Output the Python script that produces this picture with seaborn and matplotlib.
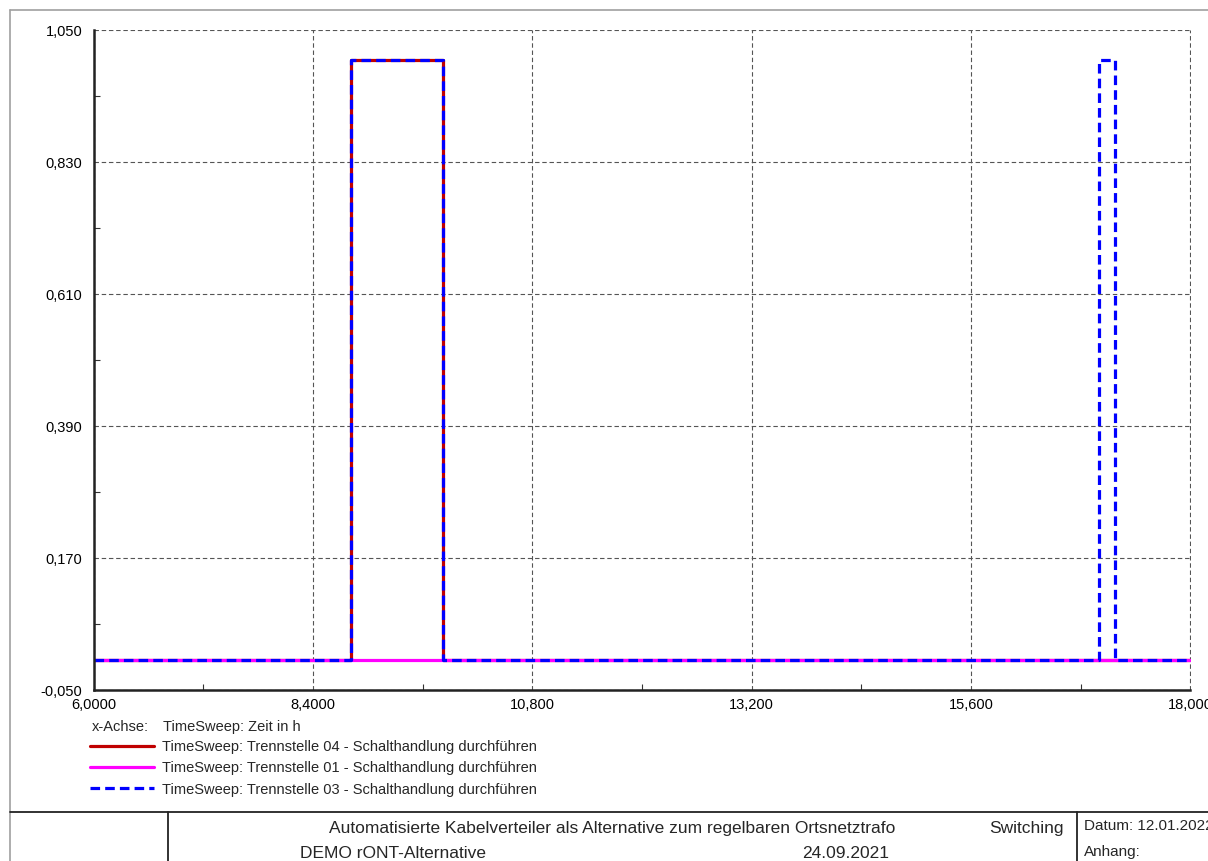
import matplotlib
matplotlib.use("Agg")
import matplotlib.pyplot as plt
from matplotlib.lines import Line2D
import seaborn as sns
import pandas as pd

# ---- data ----
time_04 = [6.0, 8.82, 8.82, 9.82, 9.82, 18.0]
val_04 = [0, 0, 1, 1, 0, 0]
time_01 = [6.0, 18.0]
val_01 = [0, 0]
time_03 = [6.0, 8.82, 8.82, 9.82, 9.82, 17.0, 17.0, 17.17, 17.17, 18.0]
val_03 = [0, 0, 1, 1, 0, 0, 1, 1, 0, 0]

series_labels = [
    "TimeSweep: Trennstelle 04 - Schalthandlung durchführen",
    "TimeSweep: Trennstelle 01 - Schalthandlung durchführen",
    "TimeSweep: Trennstelle 03 - Schalthandlung durchführen",
]
x_ticks = [6.0, 8.4, 10.8, 13.2, 15.6, 18.0]
x_tick_labels = ["6,0000", "8,4000", "10,800", "13,200", "15,600", "18,000"]
y_ticks = [-0.05, 0.17, 0.39, 0.61, 0.83, 1.05]
y_tick_labels = ["-0,050", "0,170", "0,390", "0,610", "0,830", "1,050"]
x_axis_label = "TimeSweep: Zeit in h"
footer_title = "Automatisierte Kabelverteiler als Alternative zum regelbaren Ortsnetztrafo"
footer_project = "DEMO rONT-Alternative"
footer_case = "Switching"
footer_date_case = "24.09.2021"
footer_datum = "Datum: 12.01.2022"
footer_anhang = "Anhang:"

sns.set_style("white")
plt.rcParams["font.family"] = ["Liberation Sans", "DejaVu Sans"]

W, H = 1208, 861
fig = plt.figure(figsize=(W / 100, H / 100), dpi=100)
ax = fig.add_axes([93.5 / W, 1 - 690 / H, (1190.5 - 93.5) / W, (690 - 30) / H])

df04 = pd.DataFrame({"t": time_04, "v": val_04})
df01 = pd.DataFrame({"t": time_01, "v": val_01})
df03 = pd.DataFrame({"t": time_03, "v": val_03})

lw = 2.3
sns.lineplot(data=df04, x="t", y="v", ax=ax, color="#C00000", lw=lw,
             estimator=None, sort=False, label=series_labels[0], zorder=3)
sns.lineplot(data=df01, x="t", y="v", ax=ax, color="#FF00FF", lw=lw,
             estimator=None, sort=False, label=series_labels[1], zorder=4)
sns.lineplot(data=df03, x="t", y="v", ax=ax, color="#0000FF", lw=lw,
             estimator=None, sort=False, label=series_labels[2], zorder=5,
             dashes=False)
ax.lines[-1].set_dashes((3, 1.6))

ax.set_xlim(6.0, 18.0)
ax.set_ylim(-0.05, 1.05)
ax.set_xticks(x_ticks)
ax.set_xticklabels(x_tick_labels)
ax.set_yticks(y_ticks)
ax.set_yticklabels(y_tick_labels)
ax.set_xticks([7.2, 9.6, 12.0, 14.4, 16.8], minor=True)
ax.set_yticks([0.06, 0.28, 0.50, 0.72, 0.94], minor=True)
ax.tick_params(axis="both", which="major", length=0, labelsize=10.5, colors="black")
ax.tick_params(axis="y", which="major", pad=8)
ax.tick_params(axis="x", which="major", pad=6)
ax.tick_params(axis="both", which="minor", length=4, width=0.8, direction="in",
               color="#333333", bottom=True, left=True)
ax.set_xlabel("")
ax.set_ylabel("")
ax.grid(True, which="major", color="#555555", linestyle=(0, (4, 2.5)), lw=0.8)
for s in ["top", "right"]:
    ax.spines[s].set_visible(False)
for s in ["left", "bottom"]:
    ax.spines[s].set_color("#222222")
    ax.spines[s].set_linewidth(1.8)
    ax.spines[s].set_zorder(6)

handles, labels = ax.get_legend_handles_labels()
ax.legend(handles, labels, loc="upper left",
          bbox_to_anchor=(90 / W, 1 - 740 / H), bbox_transform=fig.transFigure,
          frameon=False, fontsize=10.5, handlelength=4.4, handletextpad=0.55,
          labelspacing=0.5, borderpad=0, borderaxespad=0)

fs = 10.5
fig.text(92 / W, 1 - 727 / H, "x-Achse:", fontsize=fs, va="center", ha="left")
fig.text(163 / W, 1 - 727 / H, x_axis_label, fontsize=fs, va="center", ha="left")

# frame and footer table
gray = "#A0A0A0"
fig.add_artist(Line2D([10 / W, 1.0], [1 - 10 / H, 1 - 10 / H], color=gray, lw=1.2,
                      transform=fig.transFigure))
fig.add_artist(Line2D([10 / W, 10 / W], [0, 1 - 10 / H], color=gray, lw=1.2,
                      transform=fig.transFigure))
yf = 1 - 812 / H
fig.add_artist(Line2D([10 / W, 1.0], [yf, yf], color="#222222", lw=1.3,
                      transform=fig.transFigure))
for xv in [168, 1077]:
    fig.add_artist(Line2D([xv / W, xv / W], [0, yf], color="#222222", lw=1.3,
                          transform=fig.transFigure))

ffs = 12.5
fig.text(612 / W, 1 - 828 / H, footer_title, fontsize=ffs, ha="center", va="center")
fig.text(1026 / W, 1 - 828 / H, footer_case, fontsize=ffs, ha="center", va="center")
fig.text(1084 / W, 1 - 826 / H, footer_datum, fontsize=11, ha="left", va="center")
fig.text(393 / W, 1 - 853 / H, footer_project, fontsize=ffs, ha="center", va="center")
fig.text(846 / W, 1 - 853 / H, footer_date_case, fontsize=ffs, ha="center", va="center")
fig.text(1084 / W, 1 - 852 / H, footer_anhang, fontsize=11, ha="left", va="center")

fig.savefig("out.png", dpi=100)
